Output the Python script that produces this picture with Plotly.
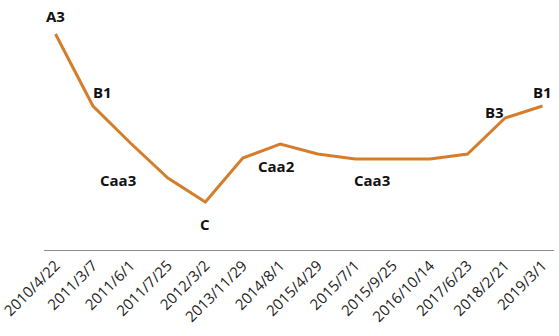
import plotly.graph_objects as go

dates = ["2010/4/22", "2011/3/7", "2011/6/1", "2011/7/25", "2012/3/2", "2013/11/29",
         "2014/8/1", "2015/4/29", "2015/7/1", "2015/9/25", "2016/10/14", "2017/6/23",
         "2018/2/21", "2019/3/1"]
score = [216, 144, 107, 72, 48, 92, 106, 96, 91, 91, 91, 96, 132, 144]

rating_labels = ["A3", "B1", "Caa3", "C", "Caa2", "Caa3", "B3", "B1"]
rating_idx = [0, 1, 2, 4, 6, 8, 12, 13]
# (xshift, yshift) in px relative to the point
offsets = [(0, 18), (10, 14), (-12, -37), (0, -22), (-4, -22), (17, -21), (-11, 6), (0, 14)]

fig = go.Figure()
fig.add_trace(go.Scatter(x=dates, y=score, mode="lines",
                         line=dict(color="#D47E2C", width=3), hoverinfo="skip"))

for lab, i, (dx, dy) in zip(rating_labels, rating_idx, offsets):
    fig.add_annotation(x=dates[i], y=score[i], text="<b>" + lab + "</b>",
                       showarrow=False, xshift=dx, yshift=dy,
                       font=dict(family="Open Sans", size=15, color="#111"))

fig.update_layout(
    width=559, height=336,
    margin=dict(l=44, r=5, t=10, b=86),
    paper_bgcolor="white", plot_bgcolor="white",
    showlegend=False,
    xaxis=dict(type="category", tickangle=-45, showgrid=False, showline=True,
               linecolor="#8c8c8c", linewidth=1, ticks="", automargin=False,
               tickfont=dict(family="Open Sans", size=15, color="#222")),
    yaxis=dict(range=[0, 240], visible=False, showgrid=False, zeroline=False,
               automargin=False),
)
fig.write_html("out.html")
